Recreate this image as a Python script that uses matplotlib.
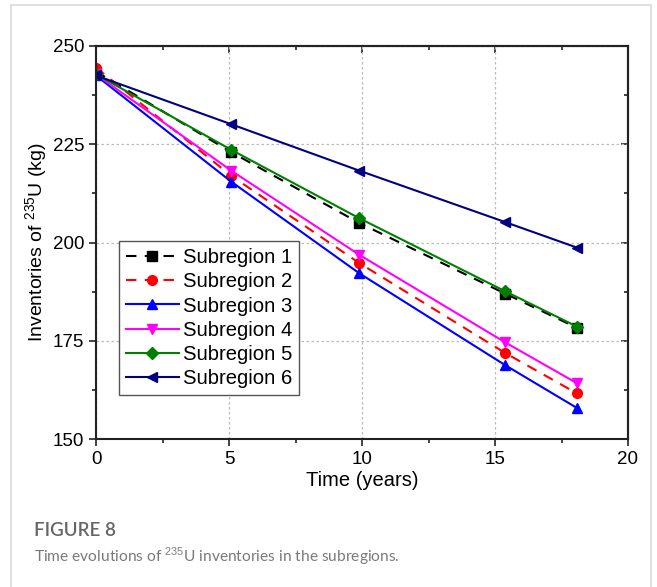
import matplotlib
matplotlib.use("Agg")
import matplotlib.pyplot as plt
from matplotlib.patches import Rectangle
from matplotlib.ticker import MultipleLocator

plt.rcParams['font.family'] = ['Liberation Sans', 'DejaVu Sans']
plt.rcParams['mathtext.fontset'] = 'custom'
plt.rcParams['mathtext.rm'] = 'Liberation Sans'
plt.rcParams['mathtext.it'] = 'Liberation Sans:italic'

time = [0, 5.08, 9.89, 15.38, 18.08]
s1 = [243.5, 223.0, 205.0, 187.0, 178.3]
s2 = [244.5, 217.0, 194.8, 171.9, 161.6]
s3 = [242.5, 215.5, 192.2, 168.8, 157.9]
s4 = [242.8, 218.3, 196.9, 174.6, 164.2]
s5 = [242.8, 223.6, 206.2, 187.6, 178.6]
s6 = [242.5, 230.1, 218.3, 205.2, 198.7]
labels = ['Subregion 1', 'Subregion 2', 'Subregion 3', 'Subregion 4', 'Subregion 5', 'Subregion 6']

W, H = 657, 587
fig = plt.figure(figsize=(W/100, H/100), dpi=100)

# card border
fig.patches.append(Rectangle((11/W, -0.01), (651-11)/W, (H-5)/H + 0.01, transform=fig.transFigure,
                             fill=False, edgecolor='#d9d9d9', linewidth=1.2))

ax = fig.add_axes([96/W, 1-439/H, (628-96)/W, (439-46)/H])

styles = [
    dict(color='black', ls=(0, (5, 4)), marker='s'),
    dict(color='#ff0000', ls=(0, (5, 4)), marker='o'),
    dict(color='#0000ff', ls='-', marker='^'),
    dict(color='#ff00ff', ls='-', marker='v'),
    dict(color='#008000', ls='-', marker='D'),
    dict(color='#000080', ls='-', marker='<'),
]
series = [s1, s2, s3, s4, s5, s6]
for ys, st, lab in zip(series, styles, labels):
    ms = 6 if st['marker'] == 'D' else 7
    ax.plot(time, ys, color=st['color'], linestyle=st['ls'], marker=st['marker'],
            markersize=ms, linewidth=1.5, label=lab)

ax.set_xlim(0, 20)
ax.set_ylim(150, 250)
ax.xaxis.set_major_locator(MultipleLocator(5))
ax.xaxis.set_minor_locator(MultipleLocator(2.5))
ax.yaxis.set_major_locator(MultipleLocator(25))
ax.yaxis.set_minor_locator(MultipleLocator(12.5))
ax.grid(True, which='major', color='#bbbbbb', linestyle=(0, (2, 2)), linewidth=0.9)
ax.set_axisbelow(True)

for sp in ax.spines.values():
    sp.set_linewidth(1.5)
    sp.set_color('#222222')

ax.tick_params(which='both', direction='out', top=False, right=False, labelsize=13.5, width=1.2, color='#222222')
ax.tick_params(which='major', length=5)
ax.tick_params(which='minor', length=3)
ax2 = ax.secondary_xaxis('top')
ax2.xaxis.set_major_locator(MultipleLocator(5))
ax2.xaxis.set_minor_locator(MultipleLocator(2.5))
ax2.tick_params(which='both', direction='in', labeltop=False, width=1.2, color='#222222')
ax2.tick_params(which='major', length=5)
ax2.tick_params(which='minor', length=3)
ax3 = ax.secondary_yaxis('right')
ax3.yaxis.set_major_locator(MultipleLocator(25))
ax3.yaxis.set_minor_locator(MultipleLocator(12.5))
ax3.tick_params(which='both', direction='in', labelright=False, width=1.2, color='#222222')
ax3.tick_params(which='major', length=5)
ax3.tick_params(which='minor', length=3)
for a in (ax2, ax3):
    for sp in a.spines.values():
        sp.set_linewidth(1.5)
        sp.set_color('#222222')

ax.set_xlabel('Time (years)', fontsize=14.5, labelpad=2)
ax.set_ylabel(r'Inventories of $^{235}$U (kg)', fontsize=14, labelpad=3)

leg = ax.legend(loc='upper left', bbox_to_anchor=(0.043, 0.503), fontsize=14.6,
                frameon=True, fancybox=False, edgecolor='#555555', framealpha=1,
                handlelength=2.6, handletextpad=0.2, labelspacing=0.25, borderpad=0.35,
                borderaxespad=0)
leg.get_frame().set_linewidth(1.0)

fig.text(34/W, 1-530/H, 'FIGURE 8', fontsize=13.5, color='#666666', family=['Lato', 'DejaVu Sans'],
         fontweight='semibold', va='center', ha='left')
fig.text(34/W, 1-556/H, r'Time evolutions of $^{235}$U inventories in the subregions.', fontsize=11.2,
         color='#7a7a7a', family=['Lato', 'DejaVu Sans'], va='center', ha='left')

fig.savefig('out.png', dpi=100)
